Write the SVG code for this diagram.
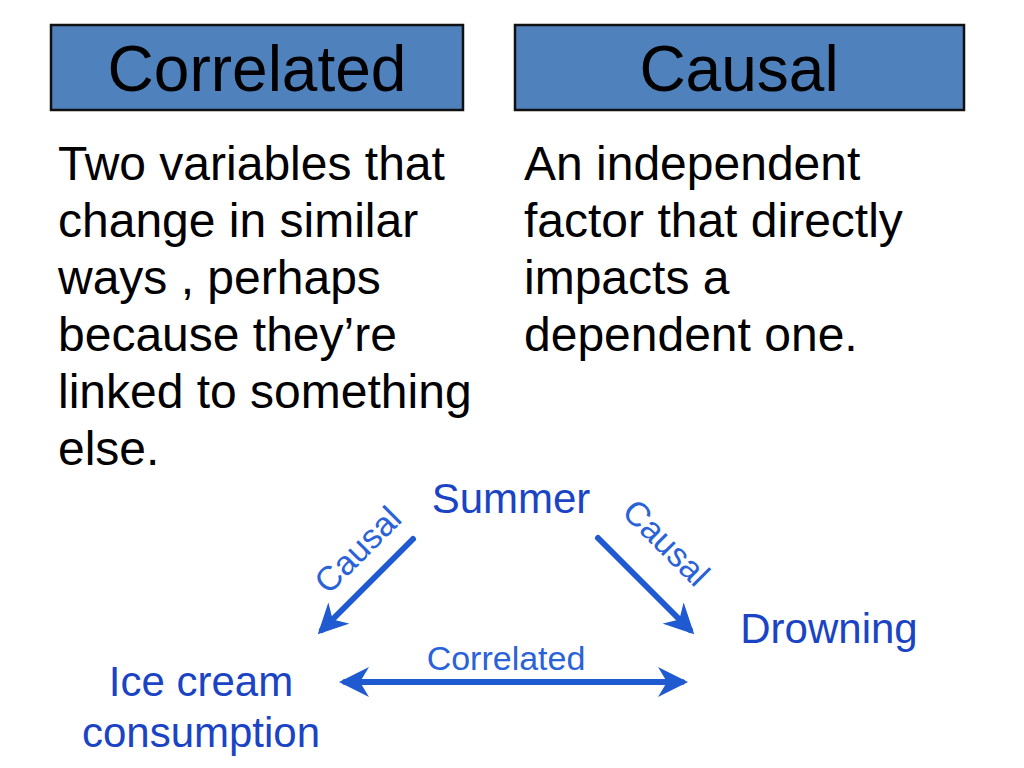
<svg xmlns="http://www.w3.org/2000/svg" width="1024" height="768" viewBox="0 0 1024 768">
<style>
.hdr{fill:#4f81bd;stroke:#111;stroke-width:2.5}
.ht{font-family:"Liberation Sans",Arial,sans-serif;font-size:64px;fill:#000;text-anchor:middle}
.bt{font-family:"Liberation Sans",Arial,sans-serif;font-size:48px;fill:#000}
.nd{font-family:"Liberation Sans",Arial,sans-serif;font-size:42px;fill:#1a44c4;text-anchor:middle}
.lb{font-family:"Liberation Sans",Arial,sans-serif;font-size:34px;fill:#2a62d8;text-anchor:middle}
.ar{stroke:#1f5ad0;stroke-width:6;fill:none;stroke-linecap:round}
</style>
<defs>
<marker id="ah" viewBox="0 0 10 10" refX="8" refY="5" markerWidth="5" markerHeight="5" orient="auto-start-reverse" markerUnits="strokeWidth">
<path d="M0,0 L10,5 L0,10 L3,5 Z" fill="#1f5ad0"/>
</marker>
</defs>
<rect width="1024" height="768" fill="#fff"/>
<g id="correlated-header">
<rect class="hdr" x="51" y="25" width="412" height="85"/>
<text class="ht" x="257" y="91">Correlated</text>
</g>
<g id="causal-header">
<rect class="hdr" x="515" y="25" width="449" height="85"/>
<text class="ht" x="739" y="91">Causal</text>
</g>
<g id="correlated-def">
<text class="bt" x="58" y="180">Two variables that</text>
<text class="bt" x="58" y="237">change in similar</text>
<text class="bt" x="58" y="294">ways , perhaps</text>
<text class="bt" x="58" y="351">because they’re</text>
<text class="bt" x="58" y="408">linked to something</text>
<text class="bt" x="58" y="465">else.</text>
</g>
<g id="causal-def">
<text class="bt" x="524" y="180">An independent</text>
<text class="bt" x="524" y="237">factor that directly</text>
<text class="bt" x="524" y="294">impacts a</text>
<text class="bt" x="524" y="351">dependent one.</text>
</g>
<g id="summer"><text class="nd" x="511" y="513">Summer</text></g>
<g id="drowning"><text class="nd" x="829" y="643">Drowning</text></g>
<g id="icecream">
<text class="nd" x="201" y="696">Ice cream</text>
<text class="nd" x="201" y="747">consumption</text>
</g>
<g id="connectors">
<line class="ar" x1="413" y1="539" x2="322" y2="630" marker-end="url(#ah)"/>
<line class="ar" x1="598" y1="538" x2="690" y2="630" marker-end="url(#ah)"/>
<line class="ar" x1="345" y1="682" x2="682" y2="682" marker-start="url(#ah)" marker-end="url(#ah)"/>
<text class="lb" transform="translate(366,558) rotate(-45)" x="0" y="0">Causal</text>
<text class="lb" transform="translate(658,551) rotate(45)" x="0" y="0">Causal</text>
<text class="lb" x="506" y="670">Correlated</text>
</g>
</svg>
